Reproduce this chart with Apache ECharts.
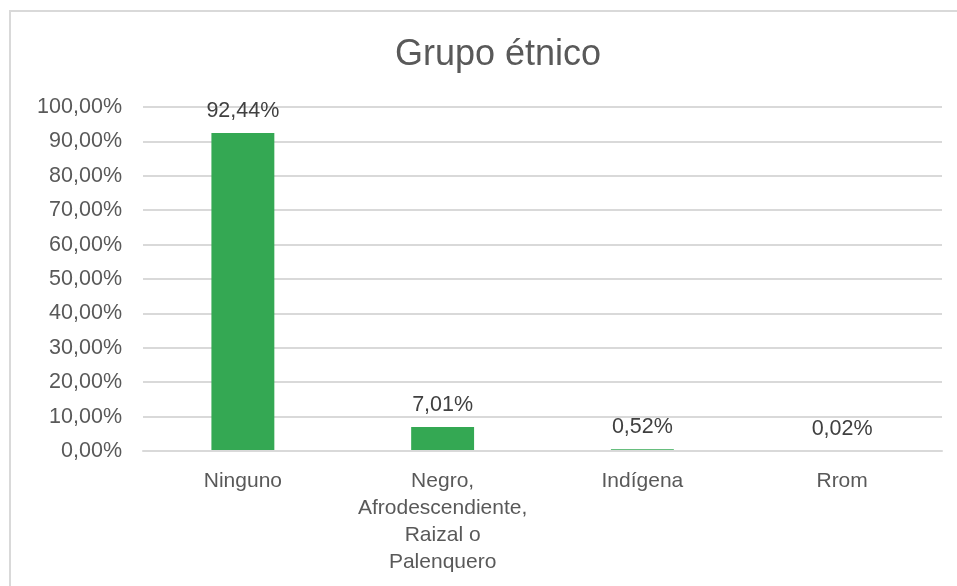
<!DOCTYPE html>
<html>
<head>
<meta charset="utf-8">
<script src="https://cdn.jsdelivr.net/npm/echarts@6/dist/echarts.min.js"></script>
<style>
html,body{margin:0;padding:0;background:#fff;}
#chart{width:957px;height:586px;}
</style>
</head>
<body>
<div id="chart"></div>
<script>
var titleText = 'Grupo étnico';
var categories = ['Ninguno', 'Negro,\nAfrodescendiente,\nRaizal o\nPalenquero', 'Indígena', 'Rrom'];
var values = [92.44, 7.01, 0.52, 0.02];
var yTicks = [0, 10, 20, 30, 40, 50, 60, 70, 80, 90, 100];

function fmt(v, d) { return v.toFixed(d).replace('.', ',') + '%'; }

var chart = echarts.init(document.getElementById('chart'));
chart.setOption({
  backgroundColor: '#ffffff',
  animation: false,
  textStyle: { fontFamily: 'Liberation Sans, Arial, sans-serif' },
  graphic: [{
    type: 'rect',
    shape: { x: 10, y: 11, width: 1000, height: 1000 },
    style: { fill: 'none', stroke: '#d9d9d9', lineWidth: 2 },
    silent: true
  }],
  title: {
    text: titleText,
    left: 493,
    textAlign: 'center',
    top: 32,
    textStyle: { fontSize: 36, fontWeight: 'normal', color: '#595959', fontFamily: 'Liberation Sans, Arial, sans-serif' }
  },
  grid: { left: 143, right: 15, top: 107, bottom: 135, containLabel: false },
  xAxis: {
    type: 'category',
    data: categories,
    z: 5,
    axisLine: { show: true, lineStyle: { color: '#d9d9d9', width: 2 } },
    axisTick: { show: false },
    axisLabel: { color: '#595959', fontSize: 21, lineHeight: 27, margin: 17, interval: 0 }
  },
  yAxis: {
    type: 'value',
    min: yTicks[0],
    max: yTicks[yTicks.length - 1],
    interval: 10,
    axisLine: { show: false },
    axisTick: { show: false },
    splitLine: { lineStyle: { color: '#d9d9d9', width: 2 } },
    axisLabel: { color: '#595959', fontSize: 21.5, margin: 21, formatter: function (v) { return fmt(v, 2); } }
  },
  series: [{
    type: 'bar',
    data: values,
    barWidth: '31.5%',
    itemStyle: { color: '#34a853' },
    label: {
      show: true,
      position: 'top',
      distance: 11,
      color: '#404040',
      fontSize: 21.5,
      formatter: function (p) { return fmt(p.value, 2); }
    }
  }]
});
</script>
</body>
</html>
